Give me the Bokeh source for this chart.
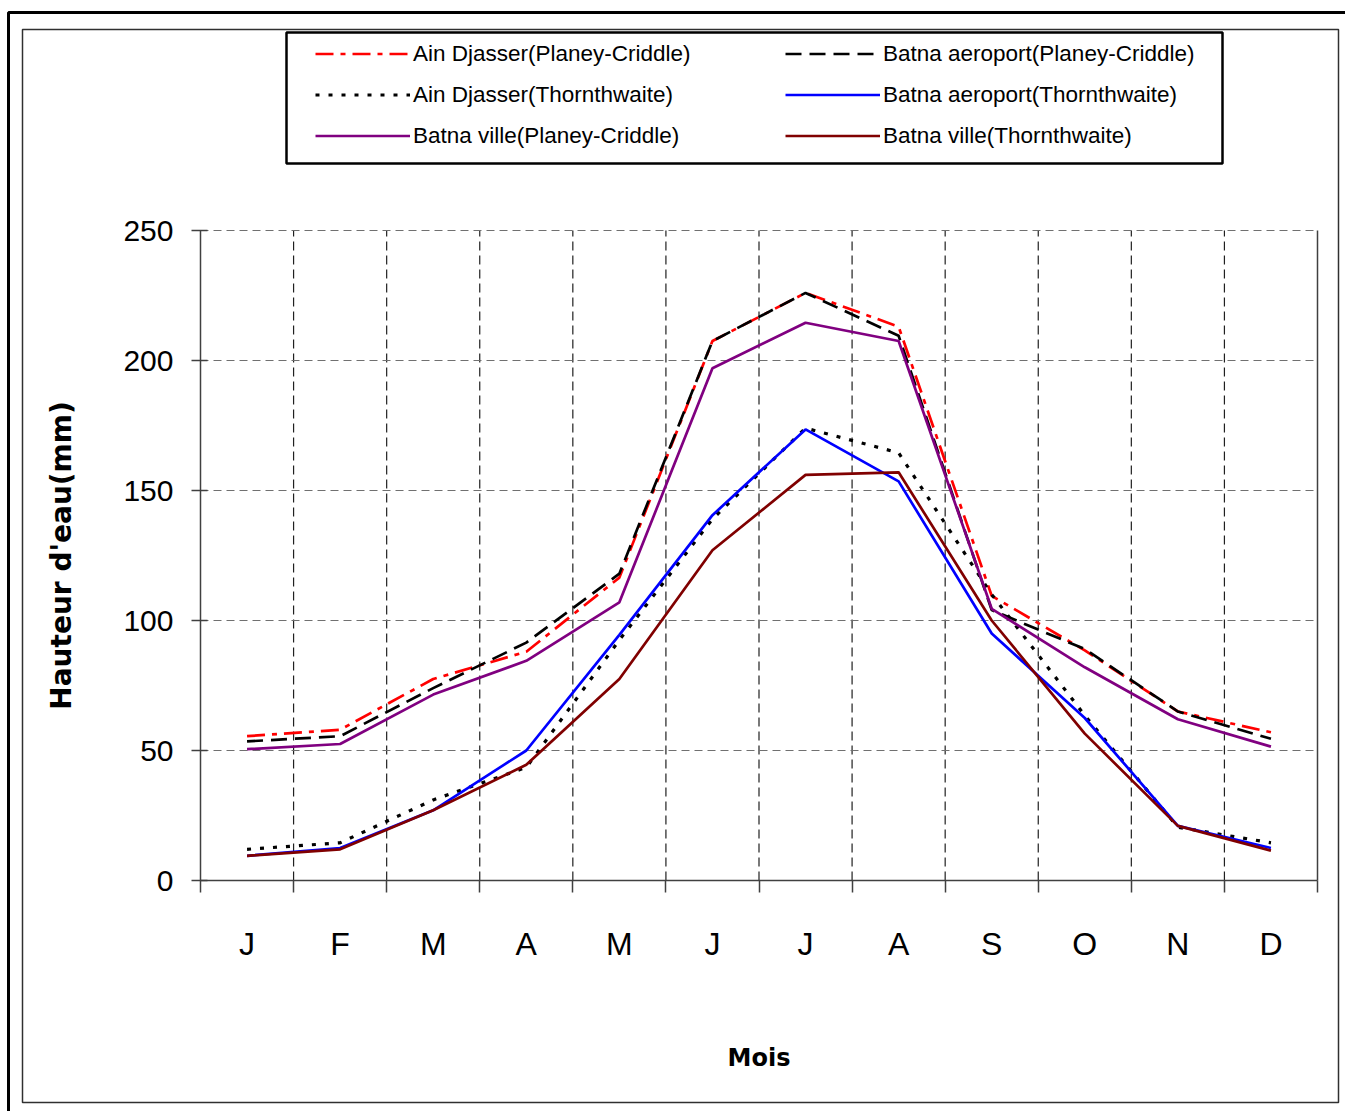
from bokeh.plotting import figure
from bokeh.models import FixedTicker, BoxAnnotation, Legend, LegendItem, LinearAxis
from bokeh.embed import file_html
from bokeh.resources import INLINE

months = ["J", "F", "M", "A", "M", "J", "J", "A", "S", "O", "N", "D"]
month_pos = list(range(1, 13))
month_bounds = [i + 0.5 for i in range(13)]
y_ticks = [0, 50, 100, 150, 200, 250]

ain_djasser_pc = [55.5, 58, 77.5, 88, 116.5, 207.5, 226, 213, 109.5, 88.5, 65, 57]
batna_aero_pc = [53.5, 55.5, 74, 91.5, 118, 207.5, 226, 209.5, 104, 89, 65, 54.5]
ain_djasser_th = [12, 14.5, 31, 43.5, 92.5, 139, 174, 164.5, 110, 63.5, 20.5, 14.5]
batna_aero_th = [9.5, 12.5, 27, 50, 94.5, 140.5, 173.5, 153.5, 95, 62.5, 21, 12.5]
batna_ville_pc = [50.5, 52.5, 71.5, 84.5, 107, 197, 214.5, 207.5, 104.5, 82, 62, 51.5]
batna_ville_th = [9.5, 12, 27, 44.5, 77.5, 127, 156, 157, 100, 56.5, 21, 11.5]

# layout (pixels on the canvas)
W, H = 1345, 1111
PL, PR, PT, PB = 200, 1317, 230, 880
x_lo, x_hi = month_bounds[0], month_bounds[-1]
y_lo, y_hi = y_ticks[0], y_ticks[-1]
sx = (PR - PL) / (x_hi - x_lo)
sy = (PB - PT) / (y_hi - y_lo)
x_range = (x_lo - PL / sx, x_hi + (W - PR) / sx)
y_range = (y_lo - (H - PB) / sy, y_hi + PT / sy)

TICK_FONT = "Liberation Sans"

p = figure(width=W, height=H, output_backend="svg", toolbar_location=None,
           x_range=x_range, y_range=y_range,
           x_axis_location=None, y_axis_location=None,
           min_border=0, min_border_left=0, min_border_right=0,
           min_border_top=0, min_border_bottom=0)
p.outline_line_color = None
p.background_fill_color = "white"
p.border_fill_color = "white"
p.xgrid.visible = False
p.ygrid.visible = False

# x axis, placed at y = 0
xaxis = LinearAxis(fixed_location=y_lo, bounds=(x_lo, x_hi))
xaxis.ticker = FixedTicker(ticks=month_pos, minor_ticks=month_bounds)
xaxis.major_label_overrides = {i + 1: m for i, m in enumerate(months)}
xaxis.major_tick_line_color = None
xaxis.major_tick_out = 0
xaxis.major_tick_in = 0
xaxis.minor_tick_out = 12
xaxis.minor_tick_in = 0
xaxis.minor_tick_line_color = "#404040"
xaxis.minor_tick_line_width = 1.5
xaxis.axis_line_color = "#404040"
xaxis.axis_line_width = 1.5
xaxis.major_label_text_font = TICK_FONT
xaxis.major_label_text_font_size = "32px"
xaxis.major_label_text_color = "black"
xaxis.major_label_standoff = 33
xaxis.axis_label = "Mois"
xaxis.axis_label_text_font = "DejaVu Sans"
xaxis.axis_label_text_font_style = "bold"
xaxis.axis_label_text_font_size = "24px"
xaxis.axis_label_text_color = "black"
xaxis.axis_label_standoff = 79
p.add_layout(xaxis, "below")

# y axis, placed at the left edge of the months
yaxis = LinearAxis(fixed_location=x_lo, bounds=(y_lo, y_hi))
yaxis.ticker = FixedTicker(ticks=y_ticks)
yaxis.major_tick_out = 9
yaxis.major_tick_in = 7
yaxis.major_tick_line_color = "#404040"
yaxis.major_tick_line_width = 1.5
yaxis.minor_tick_line_color = None
yaxis.axis_line_color = "#404040"
yaxis.axis_line_width = 1.5
yaxis.major_label_text_font = TICK_FONT
yaxis.major_label_text_font_size = "30px"
yaxis.major_label_text_color = "black"
yaxis.major_label_standoff = 18
yaxis.axis_label = "Hauteur d'eau(mm)"
yaxis.axis_label_text_font = "DejaVu Sans"
yaxis.axis_label_text_font_style = "bold"
yaxis.axis_label_text_font_size = "28px"
yaxis.axis_label_text_color = "black"
yaxis.axis_label_standoff = 42
p.add_layout(yaxis, "left")

# grid lines drawn within the data area
vb = month_bounds[1:-1]
p.segment(x0=vb, y0=[y_lo] * len(vb), x1=vb, y1=[y_hi] * len(vb),
          line_color="#202020", line_width=1.2, line_dash="9 5")
hb = y_ticks[1:]
p.segment(x0=[x_lo] * len(hb), y0=hb, x1=[x_hi] * len(hb), y1=hb,
          line_color="#707070", line_width=1.2, line_dash="8 5")
p.segment(x0=[x_hi], y0=[y_lo], x1=[x_hi], y1=[y_hi], line_color="#404040", line_width=1.5)

lw = 2.7
r_ain_pc = p.line(month_pos, ain_djasser_pc, line_color="#FF0000", line_width=lw, line_dash="18 7 5 7")
r_aero_pc = p.line(month_pos, batna_aero_pc, line_color="black", line_width=lw, line_dash="16 8")
r_ain_th = p.line(month_pos, ain_djasser_th, line_color="black", line_width=3.2, line_dash="4 9")
r_aero_th = p.line(month_pos, batna_aero_th, line_color="#0000FF", line_width=lw)
r_ville_pc = p.line(month_pos, batna_ville_pc, line_color="#800080", line_width=lw)
r_ville_th = p.line(month_pos, batna_ville_th, line_color="#800000", line_width=lw)


def frame_box(left, top, right, bottom, color, width):
    return BoxAnnotation(left=left, right=right, top=H - top, bottom=H - bottom,
                         left_units="screen", right_units="screen",
                         top_units="screen", bottom_units="screen",
                         fill_color=None, fill_alpha=0,
                         line_color=color, line_alpha=1.0, line_width=width)


p.add_layout(frame_box(8, 12, W + 10, H + 10, "black", 3))
p.add_layout(frame_box(22, 29, 1338, 1102, "#303030", 1.5))
p.add_layout(frame_box(286, 32, 1222, 163, "black", 2.5))

leg_kw = dict(border_line_color=None, background_fill_alpha=0, padding=0, spacing=0,
              margin=0, glyph_width=95, glyph_height=41, label_height=41,
              label_standoff=3, label_text_font_size="22.5px",
              label_text_font="Liberation Sans", label_text_color="black")
leg1 = Legend(items=[LegendItem(label="Ain Djasser(Planey-Criddle)", renderers=[r_ain_pc]),
                     LegendItem(label="Ain Djasser(Thornthwaite)", renderers=[r_ain_th]),
                     LegendItem(label="Batna ville(Planey-Criddle)", renderers=[r_ville_pc])],
              location=(315, H - 156), **leg_kw)
leg2 = Legend(items=[LegendItem(label="Batna aeroport(Planey-Criddle)", renderers=[r_aero_pc]),
                     LegendItem(label="Batna aeroport(Thornthwaite)", renderers=[r_aero_th]),
                     LegendItem(label="Batna ville(Thornthwaite)", renderers=[r_ville_th])],
              location=(785, H - 156), **leg_kw)
p.add_layout(leg1, "center")
p.add_layout(leg2, "center")

open("out.html", "w").write(file_html(p, INLINE))
